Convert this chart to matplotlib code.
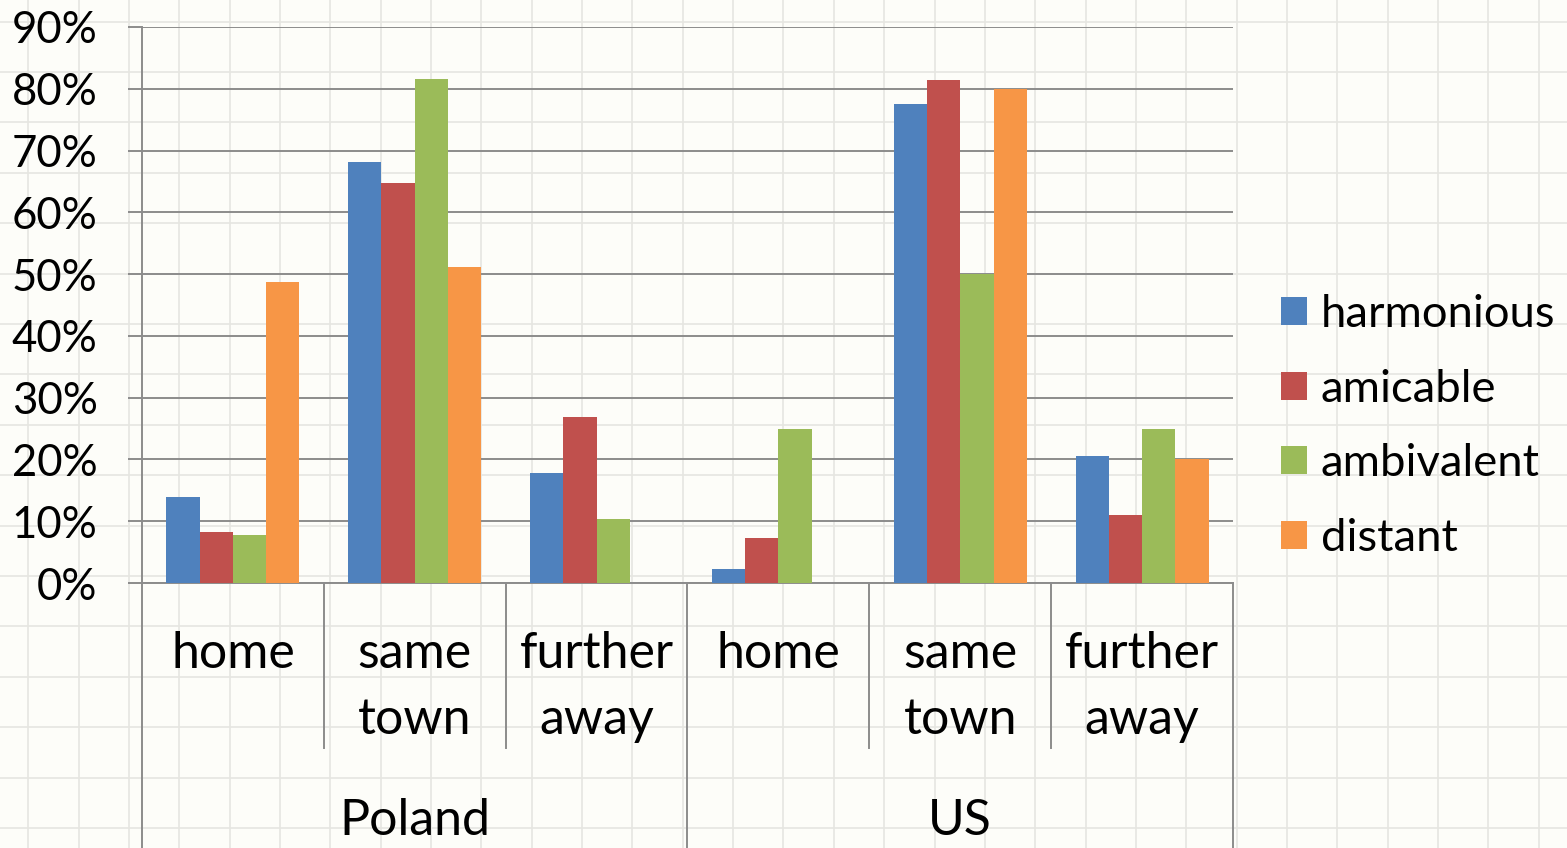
import numpy as np
import matplotlib
matplotlib.use("Agg")
import matplotlib.pyplot as plt
from matplotlib.lines import Line2D
from matplotlib.patches import Patch

plt.rcParams['font.family'] = ['Lato', 'DejaVu Sans']

# survey shares in percent, one entry per (country, place)
places = ["home", "same\ntown", "further\naway", "home", "same\ntown", "further\naway"]
countries = ["Poland", "US"]
series = ["harmonious", "amicable", "ambivalent", "distant"]
harmonious = [14.0, 68.1, 17.8, 2.3, 77.5, 20.5]
amicable = [8.2, 64.7, 26.9, 7.3, 81.5, 11.0]
ambivalent = [7.8, 81.6, 10.4, 25.0, 50.0, 25.0]
distant = [48.8, 51.1, 0.0, 0.0, 80.0, 20.0]
colors = ["#4F81BD", "#C0504D", "#9BBB59", "#F79646"]

W, H = 1567, 848
fig = plt.figure(figsize=(W / 100, H / 100), dpi=100, facecolor="#FDFDF9")

# faint paper grid behind everything
for gx in np.arange(28.25, W, 50.35):
    fig.add_artist(Line2D([gx / W, gx / W], [0, 1], color="#E6E6E1", lw=1.2, zorder=-5))
for gy in np.arange(21.6, H, 50.4):
    fig.add_artist(Line2D([0, 1], [1 - gy / H, 1 - gy / H], color="#E6E6E1", lw=1.2, zorder=-5))

x0, x1, y0, y1 = 142, 1233, 583, 27
ax = fig.add_axes([x0 / W, 1 - y0 / H, (x1 - x0) / W, (y0 - y1) / H])
ax.set_facecolor("none")

x = np.arange(len(places))
bw = 0.183
data = [harmonious, amicable, ambivalent, distant]
for i, (vals, c, name) in enumerate(zip(data, colors, series)):
    ax.bar(x + (i - 1.5) * bw, np.array(vals) / 100, width=bw, color=c, label=name, zorder=3)

ax.set_xlim(-0.5, len(places) - 0.5)
ax.set_ylim(0, 0.9)
ticks = np.arange(0, 0.91, 0.1)
ax.set_yticks(ticks)
ax.set_yticklabels([f"{int(round(t * 100))}%" for t in ticks], fontsize=31.5)
ax.tick_params(axis="y", direction="out", length=10, width=1.4, color="#8C8C8C", pad=22)
ax.set_xticks([])
ax.yaxis.grid(True, color="#8C8C8C", lw=1.4, zorder=1)
ax.set_axisbelow(True)
for s in ["top", "right"]:
    ax.spines[s].set_visible(False)
for s in ["left", "bottom"]:
    ax.spines[s].set_color("#8C8C8C")
    ax.spines[s].set_linewidth(1.4)

# multi-level category axis
tr = ax.get_xaxis_transform()
ph = y0 - y1
def frac(py):
    return (y0 - py) / ph

for xi, lab in zip(x, places):
    for j, line in enumerate(lab.split("\n")):
        ax.text(xi, frac(668 + 66 * j), line, transform=tr, ha="center", va="baseline",
                fontsize=36, clip_on=False)
for b in [0.5, 1.5, 3.5, 4.5]:
    ax.plot([b, b], [0, frac(748)], transform=tr, color="#8C8C8C", lw=1.4, clip_on=False)
for b in [-0.5, 2.5, 5.5]:
    ax.plot([b, b], [0, frac(848)], transform=tr, color="#8C8C8C", lw=1.4, clip_on=False)
for k, name in enumerate(countries):
    ax.text(1 + 3 * k, frac(835), name, transform=tr, ha="center", va="baseline",
            fontsize=36, clip_on=False)

handles = [Patch(facecolor=c, edgecolor="none") for c in colors]
fig.legend(handles, series, loc="upper left", bbox_to_anchor=(1281 / W, 1 - 294 / H),
           frameon=False, fontsize=32.7, handlelength=0.57, handleheight=0.57,
           handletextpad=0.3, labelspacing=0.74, borderaxespad=0, borderpad=0)

fig.savefig("out.png", dpi=100, facecolor=fig.get_facecolor())
